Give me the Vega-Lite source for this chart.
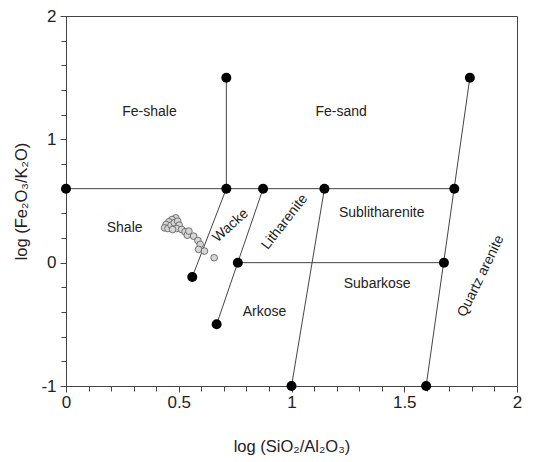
{
  "$schema": "https://vega.github.io/schema/vega-lite/v6.json",
  "width": 451,
  "height": 370,
  "autosize": "none",
  "padding": {"left": 66, "top": 16, "right": 20, "bottom": 76},
  "background": "white",
  "config": {
    "view": {"stroke": "#444", "strokeWidth": 1},
    "font": "Liberation Sans",
    "axis": {
      "domainColor": "#444", "tickColor": "#444", "grid": false,
      "labelFont": "Liberation Sans", "titleFont": "Liberation Sans",
      "labelColor": "#222", "titleColor": "#222",
      "labelFontSize": 17, "titleFontSize": 16.5, "titleFontWeight": "normal",
      "labelFlush": false, "tickSize": 5
    }
  },
  "resolve": {"axis": {"x": "independent", "y": "independent"}},
  "datasets": {
    "segments": [
      {"x": 0, "y": 0.6, "x2": 1.722, "y2": 0.6},
      {"x": 0.711, "y": 0.6, "x2": 0.711, "y2": 1.5},
      {"x": 0.711, "y": 0.6, "x2": 0.56, "y2": -0.116},
      {"x": 0.874, "y": 0.6, "x2": 0.668, "y2": -0.5},
      {"x": 0.762, "y": 0, "x2": 1.676, "y2": 0},
      {"x": 1.146, "y": 0.6, "x2": 1.0, "y2": -1},
      {"x": 1.791, "y": 1.5, "x2": 1.597, "y2": -1}
    ],
    "nodes": [
      {"x": 0, "y": 0.6}, {"x": 0.711, "y": 0.6}, {"x": 0.711, "y": 1.5},
      {"x": 0.874, "y": 0.6}, {"x": 1.146, "y": 0.6}, {"x": 1.722, "y": 0.6},
      {"x": 1.791, "y": 1.5}, {"x": 0.56, "y": -0.116}, {"x": 0.762, "y": 0},
      {"x": 1.676, "y": 0}, {"x": 0.668, "y": -0.5}, {"x": 1.0, "y": -1},
      {"x": 1.597, "y": -1}
    ],
    "samples": [
      {"x": 0.487, "y": 0.363}, {"x": 0.470, "y": 0.350}, {"x": 0.456, "y": 0.331},
      {"x": 0.444, "y": 0.309}, {"x": 0.437, "y": 0.282}, {"x": 0.452, "y": 0.277},
      {"x": 0.466, "y": 0.304}, {"x": 0.480, "y": 0.323}, {"x": 0.495, "y": 0.336},
      {"x": 0.502, "y": 0.304}, {"x": 0.490, "y": 0.277}, {"x": 0.473, "y": 0.269},
      {"x": 0.513, "y": 0.269}, {"x": 0.528, "y": 0.250}, {"x": 0.538, "y": 0.223},
      {"x": 0.545, "y": 0.256}, {"x": 0.566, "y": 0.215}, {"x": 0.585, "y": 0.180},
      {"x": 0.595, "y": 0.148}, {"x": 0.588, "y": 0.108}, {"x": 0.614, "y": 0.094},
      {"x": 0.657, "y": 0.040}
    ],
    "labels": [
      {"label": "Fe-shale", "x": 0.37, "y": 1.22},
      {"label": "Fe-sand", "x": 1.22, "y": 1.22},
      {"label": "Shale", "x": 0.26, "y": 0.28},
      {"label": "Sublitharenite", "x": 1.40, "y": 0.40},
      {"label": "Subarkose", "x": 1.38, "y": -0.17},
      {"label": "Arkose", "x": 0.88, "y": -0.40}
    ],
    "wacke": [{"label": "Wacke", "x": 0.73, "y": 0.30}],
    "lith": [{"label": "Litharenite", "x": 0.97, "y": 0.33}],
    "quartz": [{"label": "Quartz arenite", "x": 1.84, "y": -0.11}]
  },
  "layer": [
    {
      "data": {"name": "segments"},
      "mark": {"type": "rule", "color": "#444", "strokeWidth": 1},
      "encoding": {
        "x": {"field": "x", "type": "quantitative",
              "scale": {"domain": [0, 2], "nice": false, "zero": false},
              "axis": {"title": "log (SiO₂/Al₂O₃)", "orient": "bottom",
                       "values": [0, 0.5, 1, 1.5, 2],
                       "labelExpr": "'' + datum.value",
                       "labelOverlap": false, "labelFlush": false, "tickSize": 6,
                       "labelPadding": 2, "titlePadding": 28}},
        "y": {"field": "y", "type": "quantitative",
              "scale": {"domain": [-1, 2], "nice": false, "zero": false},
              "axis": {"title": "log (Fe₂O₃/K₂O)", "orient": "left",
                       "values": [-1, 0, 1, 2],
                       "labelExpr": "'' + datum.value",
                       "labelOverlap": false, "labelFlush": false, "tickSize": 6,
                       "labelPadding": 4, "titlePadding": 11}},
        "x2": {"field": "x2"},
        "y2": {"field": "y2"}
      }
    },
    {
      "data": {"name": "nodes"},
      "mark": {"type": "circle", "color": "black", "size": 100, "opacity": 1},
      "encoding": {
        "x": {"field": "x", "type": "quantitative",
              "axis": {"title": null, "orient": "bottom", "labels": false, "domain": false,
                       "values": [0.1,0.2,0.3,0.4,0.6,0.7,0.8,0.9,1.1,1.2,1.3,1.4,1.6,1.7,1.8,1.9],
                       "tickSize": 5}},
        "y": {"field": "y", "type": "quantitative",
              "axis": {"title": null, "orient": "left", "labels": false, "domain": false,
                       "values": [-0.8,-0.6,-0.4,-0.2,0.2,0.4,0.6,0.8,1.2,1.4,1.6,1.8],
                       "tickSize": 5}}
      }
    },
    {
      "data": {"name": "samples"},
      "mark": {"type": "point", "shape": "circle", "filled": true, "fill": "#d6d6d6", "stroke": "#555", "strokeWidth": 0.8, "size": 45, "opacity": 1},
      "encoding": {
        "x": {"field": "x", "type": "quantitative", "axis": null},
        "y": {"field": "y", "type": "quantitative", "axis": null}
      }
    },
    {
      "data": {"name": "labels"},
      "mark": {"type": "text", "fontSize": 14, "color": "#222", "font": "Liberation Sans"},
      "encoding": {
        "x": {"field": "x", "type": "quantitative", "axis": null},
        "y": {"field": "y", "type": "quantitative", "axis": null},
        "text": {"field": "label"}
      }
    },
    {
      "data": {"name": "wacke"},
      "mark": {"type": "text", "fontSize": 14, "color": "#222", "font": "Liberation Sans", "angle": 318},
      "encoding": {
        "x": {"field": "x", "type": "quantitative", "axis": null},
        "y": {"field": "y", "type": "quantitative", "axis": null},
        "text": {"field": "label"}
      }
    },
    {
      "data": {"name": "lith"},
      "mark": {"type": "text", "fontSize": 14, "color": "#222", "font": "Liberation Sans", "angle": 308},
      "encoding": {
        "x": {"field": "x", "type": "quantitative", "axis": null},
        "y": {"field": "y", "type": "quantitative", "axis": null},
        "text": {"field": "label"}
      }
    },
    {
      "data": {"name": "quartz"},
      "mark": {"type": "text", "fontSize": 14, "color": "#222", "font": "Liberation Sans", "angle": 296},
      "encoding": {
        "x": {"field": "x", "type": "quantitative", "axis": null},
        "y": {"field": "y", "type": "quantitative", "axis": null},
        "text": {"field": "label"}
      }
    }
  ]
}
